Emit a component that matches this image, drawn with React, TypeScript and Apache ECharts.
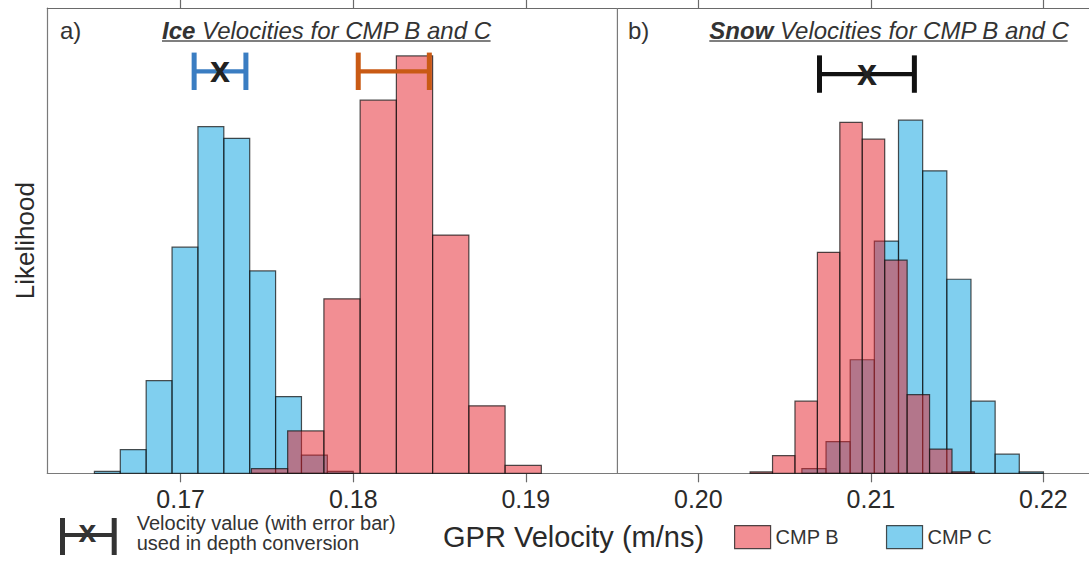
import React, { useEffect, useRef } from "react";
import * as echarts from "echarts";

const FONT = "'Liberation Sans', Arial, Helvetica, sans-serif";

// ---- data ----
const tickValues = [0.17, 0.18, 0.19, 0.2, 0.21, 0.22];

const iceBEdges = [0.1741, 0.1762, 0.1783, 0.1804, 0.1825, 0.1846, 0.1867, 0.1888];
const iceBWidth = 0.0021;
const iceBCounts = [1.0, 9.1, 37.5, 80.2, 89.7, 51.2, 14.5, 1.7];

const iceCEdges = [0.165, 0.1665, 0.168, 0.1695, 0.171, 0.1725, 0.174, 0.1755, 0.177, 0.1785];
const iceCWidth = 0.0015;
const iceCCounts = [0.4, 5.1, 19.9, 48.6, 74.5, 72.0, 43.5, 16.5, 3.9, 0.4];

const snowBEdges = [0.203, 0.2043, 0.2056, 0.2069, 0.2082, 0.2095, 0.2108, 0.2121, 0.2134, 0.2147];
const snowBWidth = 0.0013;
const snowBCounts = [0.3, 3.8, 15.5, 47.5, 75.4, 71.8, 45.8, 16.9, 5.2, 0.3];

const snowCEdges = [0.206, 0.2074, 0.2088, 0.2102, 0.2116, 0.213, 0.2144, 0.2158, 0.2172, 0.2186];
const snowCWidth = 0.0014;
const snowCCounts = [1.0, 6.8, 24.4, 49.9, 75.9, 65.0, 41.7, 15.5, 4.1, 0.3];

const errCenters = [0.17228, 0.18235, 0.20977];
const errHalfWidths = [0.0015, 0.00206, 0.00275];
const errLevels = [86.4, 86.4, 85.8];
const errMarked = [1, 0, 1];
const errColors = ["#3a7dc2", "#c95a14", "#111111"];

const panelDividers = [0.19531];

const X_MIN = 0.16227;
const X_MAX = 0.22264;

const RED = "rgba(229,29,39,0.5)";
const BLUE = "rgba(1,159,223,0.5)";
const EDGE = "rgba(20,20,20,0.75)";

function bins(edges: number[], width: number, counts: number[]) {
  return edges.map((e, i) => [e, e + width, counts[i]]);
}

function histRender(color: string) {
  return (params: any, api: any) => {
    const p0 = api.coord([api.value(0), api.value(2)]);
    const p1 = api.coord([api.value(1), 0]);
    return {
      type: "rect",
      shape: { x: p0[0], y: p0[1], width: p1[0] - p0[0], height: p1[1] - p0[1] },
      style: { fill: color, stroke: EDGE, lineWidth: 1.2 },
    };
  };
}

export default function App() {
  const ref = useRef<HTMLDivElement>(null);

  useEffect(() => {
    if (!ref.current) return;
    const chart = echarts.init(ref.current, null, { renderer: "svg" });

    const option: any = {
      animation: false,
      backgroundColor: "#ffffff",
      textStyle: { fontFamily: FONT },
      grid: { left: 47.3, top: 8, right: 0, height: 465.3 },
      xAxis: [
        {
          type: "value",
          min: X_MIN,
          max: X_MAX,
          position: "bottom",
          splitLine: { show: false },
          axisLine: { show: true, onZero: false, lineStyle: { color: "#7a7a7a", width: 1.2 } },
          axisTick: {
            show: true,
            customValues: tickValues,
            length: 9,
            lineStyle: { color: "#6a6a6a", width: 1.2 },
          },
          axisLabel: {
            customValues: tickValues,
            formatter: (v: number) => v.toFixed(2),
            fontSize: 25,
            color: "#2a2a2a",
            fontFamily: FONT,
            margin: 13,
          },
        },
        {
          type: "value",
          min: X_MIN,
          max: X_MAX,
          position: "top",
          splitLine: { show: false },
          axisLine: { show: true, onZero: false, lineStyle: { color: "#6a6a6a", width: 1.2 } },
          axisTick: {
            show: true,
            customValues: tickValues,
            length: 8,
            lineStyle: { color: "#6a6a6a", width: 1.2 },
          },
          axisLabel: { show: false },
        },
      ],
      yAxis: {
        type: "value",
        min: 0,
        max: 100,
        splitLine: { show: false },
        axisLine: { show: true, lineStyle: { color: "#7a7a7a", width: 1.2 } },
        axisTick: { show: false },
        axisLabel: { show: false },
      },
      legend: {
        left: 734,
        top: 525,
        padding: 0,
        itemWidth: 36,
        itemHeight: 23,
        itemGap: 47,
        textStyle: { fontSize: 20, color: "#333", fontFamily: FONT },
        data: [
          { name: "CMP B", icon: "rect", itemStyle: { color: RED, borderColor: EDGE, borderWidth: 1.2 } },
          { name: "CMP C", icon: "rect", itemStyle: { color: BLUE, borderColor: EDGE, borderWidth: 1.2 } },
        ],
      },
      series: [
        {
          name: "divider",
          type: "custom",
          encode: { x: 0 },
          data: panelDividers.map((d) => [d]),
          z: 1,
          renderItem: (params: any, api: any) => {
            const cs = params.coordSys;
            const p = api.coord([api.value(0), 0]);
            return {
              type: "line",
              shape: { x1: p[0], y1: cs.y, x2: p[0], y2: cs.y + cs.height },
              style: { stroke: "#7a7a7a", lineWidth: 1.2 },
            };
          },
        },
        {
          name: "CMP C",
          type: "custom",
          renderItem: histRender(BLUE),
          encode: { x: [0, 1], y: 2 },
          itemStyle: { color: BLUE },
          data: [...bins(iceCEdges, iceCWidth, iceCCounts), ...bins(snowCEdges, snowCWidth, snowCCounts)],
          z: 2,
        },
        {
          name: "CMP B",
          type: "custom",
          renderItem: histRender(RED),
          encode: { x: [0, 1], y: 2 },
          itemStyle: { color: RED },
          data: [...bins(iceBEdges, iceBWidth, iceBCounts), ...bins(snowBEdges, snowBWidth, snowBCounts)],
          z: 3,
        },
        {
          name: "velocity used",
          type: "custom",
          encode: { x: 0, y: 2 },
          data: errCenters.map((c, i) => [c, errHalfWidths[i], errLevels[i], errMarked[i]]),
          z: 5,
          renderItem: (params: any, api: any) => {
            const c = api.value(0);
            const hw = api.value(1);
            const lv = api.value(2);
            const mark = api.value(3);
            const color = errColors[params.dataIndex];
            const pl = api.coord([c - hw, lv]);
            const pr = api.coord([c + hw, lv]);
            const pc = api.coord([c, lv]);
            const capH = 18.7;
            const children: any[] = [
              { type: "line", shape: { x1: pl[0], y1: pl[1], x2: pr[0], y2: pr[1] }, style: { stroke: color, lineWidth: 4.2 } },
              { type: "line", shape: { x1: pl[0], y1: pl[1] - capH, x2: pl[0], y2: pl[1] + capH }, style: { stroke: color, lineWidth: 5 } },
              { type: "line", shape: { x1: pr[0], y1: pr[1] - capH, x2: pr[0], y2: pr[1] + capH }, style: { stroke: color, lineWidth: 5 } },
            ];
            if (mark) {
              children.push({
                type: "text",
                x: pc[0],
                y: pc[1] - 2,
                style: {
                  text: "x",
                  fontSize: 36,
                  fontWeight: "bold",
                  fontFamily: FONT,
                  fill: "#222",
                  align: "center",
                  verticalAlign: "middle",
                },
              });
            }
            return { type: "group", children };
          },
        },
      ],
      graphic: [
        {
          type: "text",
          x: 60,
          y: 30.7,
          style: { text: "a)", fontSize: 24, fontFamily: FONT, fill: "#333", verticalAlign: "middle" },
        },
        {
          type: "text",
          x: 162,
          y: 30.7,
          style: {
            text: "{b|Ice}{i| Velocities for CMP B and C}",
            verticalAlign: "middle",
            rich: {
              b: { fontSize: 24, fontWeight: "bold", fontStyle: "italic", fontFamily: FONT, fill: "#333" },
              i: { fontSize: 24, fontStyle: "italic", fontFamily: FONT, fill: "#333" },
            },
          },
        },
        { type: "line", shape: { x1: 162, y1: 41, x2: 490.6, y2: 41 }, style: { stroke: "#555", lineWidth: 1.3 } },
        {
          type: "text",
          x: 628,
          y: 30.7,
          style: { text: "b)", fontSize: 24, fontFamily: FONT, fill: "#333", verticalAlign: "middle" },
        },
        {
          type: "text",
          x: 709.3,
          y: 30.7,
          style: {
            text: "{b|Snow}{i| Velocities for CMP B and C}",
            verticalAlign: "middle",
            rich: {
              b: { fontSize: 24, fontWeight: "bold", fontStyle: "italic", fontFamily: FONT, fill: "#333" },
              i: { fontSize: 24, fontStyle: "italic", fontFamily: FONT, fill: "#333" },
            },
          },
        },
        { type: "line", shape: { x1: 709.3, y1: 41, x2: 1067.7, y2: 41 }, style: { stroke: "#555", lineWidth: 1.3 } },
        {
          type: "text",
          x: 25,
          y: 240.6,
          rotation: Math.PI / 2,
          style: { text: "Likelihood", fontSize: 26, fontFamily: FONT, fill: "#2a2a2a", align: "center", verticalAlign: "middle" },
        },
        {
          type: "text",
          x: 443,
          y: 537,
          style: { text: "GPR Velocity (m/ns)", fontSize: 29, fontFamily: FONT, fill: "#2a2a2a", align: "left", verticalAlign: "middle" },
        },
        // error-bar legend key
        { type: "line", shape: { x1: 62.5, y1: 535, x2: 114.2, y2: 535 }, style: { stroke: "#333", lineWidth: 4.2 } },
        { type: "line", shape: { x1: 62.5, y1: 518, x2: 62.5, y2: 555 }, style: { stroke: "#333", lineWidth: 5 } },
        { type: "line", shape: { x1: 114.2, y1: 518, x2: 114.2, y2: 555 }, style: { stroke: "#333", lineWidth: 5 } },
        {
          type: "text",
          x: 87.3,
          y: 531,
          style: { text: "x", fontSize: 32, fontWeight: "bold", fontFamily: FONT, fill: "#333", align: "center", verticalAlign: "middle" },
        },
        {
          type: "text",
          x: 136.7,
          y: 523,
          style: { text: "Velocity value (with error bar)", fontSize: 20, fontFamily: FONT, fill: "#333", verticalAlign: "middle" },
        },
        {
          type: "text",
          x: 136.7,
          y: 543,
          style: { text: "used in depth conversion", fontSize: 20, fontFamily: FONT, fill: "#333", verticalAlign: "middle" },
        },
      ],
    };

    chart.setOption(option);
    return () => chart.dispose();
  }, []);

  return (
    <div
      ref={ref}
      style={{ position: "fixed", left: 0, top: 0, width: 1089, height: 563, background: "#fff" }}
    />
  );
}
